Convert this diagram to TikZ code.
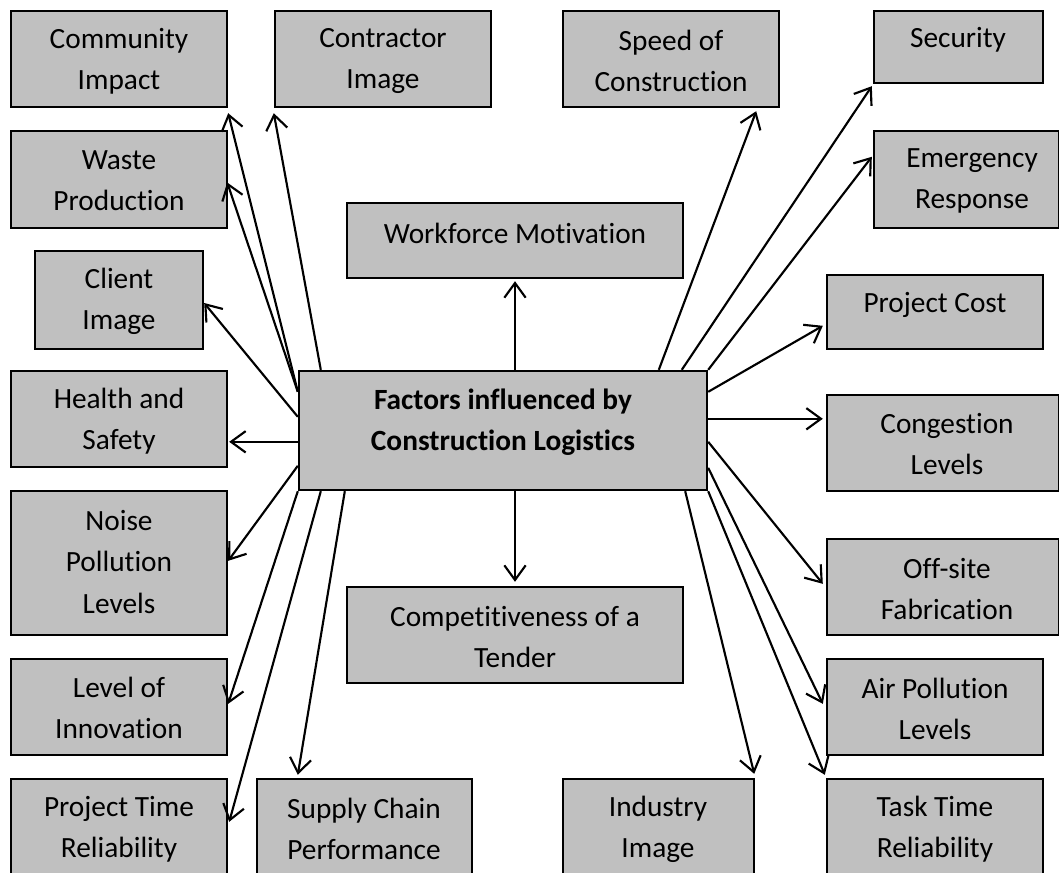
\documentclass[tikz,border=0pt]{standalone}
\usepackage{fontspec}
\setmainfont{Carlito}[Ligatures=NoCommon]
\usetikzlibrary{arrows.meta,fit,calc}
\definecolor{boxgray}{RGB}{192,192,192}
\tikzset{
  box/.style={draw=black, fill=boxgray, line width=1.8pt, inner sep=0pt},
  txt/.style={align=center, font=\fontsize{22}{31}\selectfont, inner sep=0pt},
  arr/.style={-{Straight Barb[length=11pt,width=16pt]}, line width=1.6pt},
}
\begin{document}
\begin{tikzpicture}[x=0.75pt,y=-0.75pt]
\useasboundingbox (0,0) rectangle (1059,872);
% boxes
\node[box, fit={(11,11)(227,107)}] (ci) {};
\node[box, fit={(275,11)(491,107)}] (coi) {};
\node[box, fit={(11,131)(227,228)}] (wp) {};
\node[box, fit={(35,251)(203,349)}] (cli) {};
\node[box, fit={(11,371)(227,467)}] (hs) {};
\node[box, fit={(11,491)(227,635)}] (np) {};
\node[box, fit={(11,659)(227,755)}] (li) {};
\node[box, fit={(11,779)(227,890)}] (pt) {};
\node[box, fit={(257,779)(472,890)}] (sc) {};
\node[box, fit={(347,203)(683,278)}] (wm) {};
\node[box, fit={(347,587)(683,683)}] (ct) {};
\node[box, fit={(563,11)(779,107)}] (sp) {};
\node[box, fit={(874,11)(1043,83)}] (se) {};
\node[box, fit={(874,131)(1059,228)}] (er) {};
\node[box, fit={(827,275)(1043,349)}] (pc) {};
\node[box, fit={(827,395)(1059,491)}] (cg) {};
\node[box, fit={(827,539)(1059,635)}] (of) {};
\node[box, fit={(827,659)(1043,755)}] (ap) {};
\node[box, fit={(827,779)(1043,890)}] (tt) {};
\node[box, fit={(563,779)(754,890)}] (ii) {};
\node[box, fit={(299,371)(707,490)}] (c) {};
% texts
\node[txt] (ci-t) at (119,61) {Community\\Impact};
\node[txt] (coi-t) at (383,61) {Contractor\\Image};
\node[txt] (wp-t) at (119,181) {Waste\\Production};
\node[txt] (cli-t) at (119,301) {Client\\Image};
\node[txt] (hs-t) at (119,421) {Health and\\Safety};
\node[txt] (np-t) at (119,562) {Noise\\Pollution\\Levels};
\node[txt] (li-t) at (119,708) {Level of\\Innovation};
\node[txt] (pt-t) at (119,829) {Project Time\\Reliability};
\node[txt] (sc-t) at (364,829) {Supply Chain\\Performance};
\node[txt] (wm-t) at (515,233) {Workforce Motivation};
\node[txt] (ct-t) at (515,637) {Competitiveness of a\\Tender};
\node[txt] (sp-t) at (671,61) {Speed of\\Construction};
\node[txt] (se-t) at (958,40) {Security};
\node[txt] (er-t) at (972,181) {Emergency\\Response};
\node[txt] (pc-t) at (935,305) {Project Cost};
\node[txt] (cg-t) at (947,444) {Congestion\\Levels};
\node[txt] (of-t) at (947,589) {Off-site\\Fabrication};
\node[txt] (ap-t) at (935,709) {Air Pollution\\Levels};
\node[txt] (tt-t) at (935,829) {Task Time\\Reliability};
\node[txt] (ii-t) at (658,829) {Industry\\Image};
\node[txt, font=\fontsize{22}{31}\selectfont\bfseries] (c-t) at (503,422) {Factors influenced by\\Construction Logistics};
% arrows
\draw[arr] ($(c.north west)+(0,22)$) -- ($(ci.south east)+(0,5)$);
\draw[arr] ($(c.north west)+(0,22)$) -- ($(wp.east)+(-1,3)$);
\draw[arr] ($(c.north west)+(23,0)$) -- ($(coi.south west)+(0,5)$);
\draw[arr] ($(c.north west)+(0,47)$) -- ($(cli.east)+(0,3)$);
\draw[arr] ($(c.north west)+(0,72)$) -- ($(hs.north east)+(1,72)$);
\draw[arr] ($(c.north west)+(0,96)$) -- ($(np.north east)+(0,71)$);
\draw[arr] (c.south west) -- ($(li.north east)+(0,46)$);
\draw[arr] ($(c.south west)+(23,0)$) -- ($(pt.north east)+(1,44)$);
\draw[arr] ($(c.south west)+(47,0)$) -- ($(sc.north west)+(42,-3)$);
\draw[arr] (ct.north |- c.south) -- ($(ct.north)+(0,-4)$);
\draw[arr] (wm.south |- c.north) -- ($(wm.south)+(0,2)$);
\draw[arr] ($(c.north west)+(361,0)$) -- ($(sp.south east)+(-24,3)$);
\draw[arr] ($(c.north west)+(384,0)$) -- ($(se.south west)+(-1,2)$);
\draw[arr] (c.north east) -- ($(er.north west)+(-1,27)$);
\draw[arr] ($(c.north east)+(0,22)$) -- ($(pc.north west)+(-3,52)$);
\draw[arr] ($(c.north east)+(0,49)$) -- ($(cg.north west)+(-3,25)$);
\draw[arr] ($(c.north east)+(0,72)$) -- ($(of.north west)+(-3,46)$);
\draw[arr] ($(c.north east)+(0,98)$) -- ($(ap.north west)+(-3,46)$);
\draw[arr] (c.south east) -- ($(tt.north west)+(-1,-3)$);
\draw[arr] ($(c.south east)+(-23,0)$) -- ($(ii.north east)+(-1,-4)$);
\end{tikzpicture}
\end{document}
